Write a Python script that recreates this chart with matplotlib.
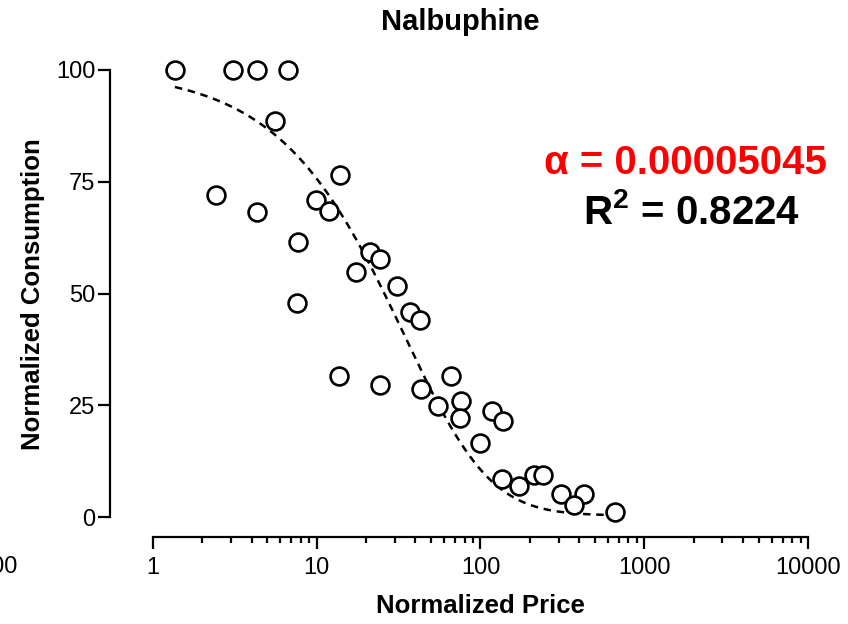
"""
Nalbuphine demand curve: normalized consumption vs normalized price,
with the exponentiated demand fit drawn as a dashed line.
"""

import numpy as np
import matplotlib.pyplot as plt
from matplotlib.ticker import NullFormatter, FixedLocator

plt.rcParams["font.family"] = ["Liberation Sans", "DejaVu Sans"]
plt.rcParams["mathtext.fontset"] = "custom"
plt.rcParams["mathtext.bf"] = "Liberation Sans:bold"
plt.rcParams["mathtext.rm"] = "Liberation Sans"

price = [1.36, 3.08, 4.32, 6.67, 5.56, 2.42, 4.32, 13.9, 9.9, 11.9,
         7.69, 7.6, 21.1, 24.3, 17.4, 30.9, 37.1, 42.7, 13.7, 24.3,
         66.1, 43.3, 55.0, 76.0, 75.0, 117.6, 137.0, 100.0, 135.0, 172.0,
         212.0, 241.0, 310.0, 429.0, 372.0, 663.0]
consumption = [100.0, 100.0, 100.0, 100.0, 88.6, 72.0, 68.2, 76.5, 70.9, 68.5,
               61.5, 47.9, 59.3, 57.7, 54.8, 51.7, 45.9, 44.1, 31.5, 29.5,
               31.5, 28.6, 24.8, 25.9, 22.1, 23.7, 21.5, 16.6, 8.5, 6.9,
               9.4, 9.4, 5.1, 5.1, 2.7, 1.1]

# fit parameters
alpha = 0.00005045
q0 = 100.0
k = 2.46
r_squared = "0.8224"

x_ticks = [1, 10, 100, 1000, 10000]
x_tick_labels = ["1", "10", "100", "1000", "10000"]
y_ticks = [0, 25, 50, 75, 100]

W, H = 848, 624
fig = plt.figure(figsize=(W / 100, H / 100), dpi=100)

# axes box in pixel terms: y-axis at x=110, x-axis at y=537, top at y=70
left, right, top, bottom = 110, 808, 70, 537
ax = fig.add_axes([left / W, (H - bottom) / H, (right - left) / W, (bottom - top) / H])

ax.set_xscale("log")
ax.set_xlim(10 ** ((left - 153) / 163.75), 10000)
ax.set_ylim((517 - bottom) / 4.47, 100)

curve_x = np.logspace(np.log10(min(price)), np.log10(max(price)), 300)
curve_y = q0 * 10 ** (k * (np.exp(-alpha * q0 * curve_x) - 1))
ax.plot(curve_x, curve_y, color="black", lw=1.8, ls=(0, (3.0, 2.3)), zorder=2,
        clip_on=False)

ax.scatter(price, consumption, s=165, facecolor="white", edgecolor="black",
           linewidths=1.9, zorder=3, clip_on=False)

for side in ["top", "right"]:
    ax.spines[side].set_visible(False)
for side in ["left", "bottom"]:
    ax.spines[side].set_linewidth(1.6)
ax.spines["left"].set_bounds(0, 100)
ax.spines["bottom"].set_bounds(1, 10000)

minor_ticks = [m * d for d in [1, 10, 100, 1000] for m in range(2, 10)]
ax.xaxis.set_major_locator(FixedLocator(x_ticks))
ax.set_xticklabels(x_tick_labels)
ax.xaxis.set_minor_locator(FixedLocator(minor_ticks))
ax.xaxis.set_minor_formatter(NullFormatter())
ax.set_yticks(y_ticks)

ax.tick_params(axis="both", which="major", length=8.5, width=1.6,
               labelsize=17, direction="out")
ax.tick_params(axis="x", which="minor", length=4.5, width=1.6, direction="out")
ax.tick_params(axis="x", which="major", pad=6)
ax.tick_params(axis="y", which="major", pad=2)

fig.text(460 / W, 1 - 22 / H, "Nalbuphine", ha="center", va="center",
         fontsize=21, fontweight="bold")
fig.text(480 / W, 1 - 606 / H, "Normalized Price", ha="center", va="center",
         fontsize=18.5, fontweight="bold")
fig.text(33 / W, 1 - 294 / H, "Normalized Consumption", ha="center", va="center",
         rotation=90, fontsize=18.5, fontweight="bold")

# stray label cut off at the left edge, as in the original
fig.text(18 / W, 1 - 567 / H, "100", ha="right", va="center", fontsize=17)

fig.text(685 / W, 1 - 163 / H, f"\u03b1 = {alpha:.8f}", ha="center", va="center",
         fontsize=29, fontweight="bold", color="#ff0000")
fig.text(691 / W, 1 - 213 / H, r"R$^{\mathbf{2}}$ = " + r_squared,
         ha="center", va="center", fontsize=29, fontweight="bold", color="black")

fig.savefig("out.png", dpi=100)
